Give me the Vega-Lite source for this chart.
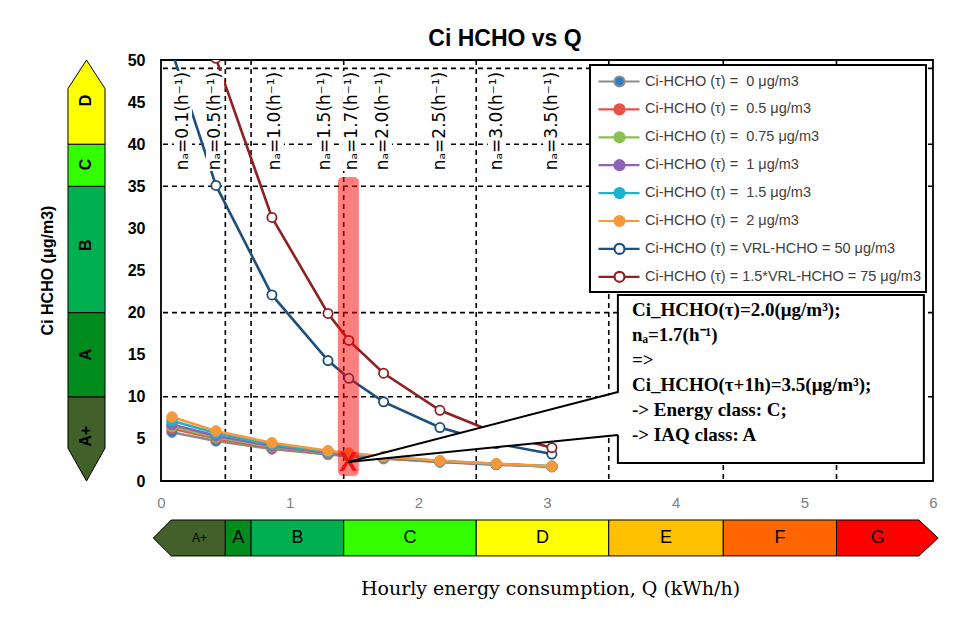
{
  "$schema": "https://vega.github.io/schema/vega-lite/v6.json",
  "width": 772,
  "height": 421,
  "autosize": {"type": "none"},
  "padding": {"left": 161, "top": 60, "right": 37, "bottom": 136},
  "background": "white",
  "title": {"text": "Ci HCHO vs Q", "frame": "group", "anchor": "middle", "dx": -42, "dy": 32, "offset": 15, "baseline": "alphabetic", "fontSize": 23, "font": "Liberation Sans", "fontWeight": "bold", "color": "black"},
  "datasets": {
    "series": [
      {"k": "0", "Q": 0.0855, "C": 5.8}, {"k": "0", "Q": 0.427, "C": 4.75}, {"k": "0", "Q": 0.862, "C": 3.8}, {"k": "0", "Q": 1.298, "C": 3.15}, {"k": "0", "Q": 1.46, "C": 2.95}, {"k": "0", "Q": 1.73, "C": 2.65}, {"k": "0", "Q": 2.168, "C": 2.25}, {"k": "0", "Q": 2.605, "C": 1.95}, {"k": "0", "Q": 3.038, "C": 1.7},
      {"k": "0.5", "Q": 0.0855, "C": 6.25}, {"k": "0.5", "Q": 0.427, "C": 5.05}, {"k": "0.5", "Q": 0.862, "C": 3.98}, {"k": "0.5", "Q": 1.298, "C": 3.26}, {"k": "0.5", "Q": 1.46, "C": 3.04}, {"k": "0.5", "Q": 1.73, "C": 2.72}, {"k": "0.5", "Q": 2.168, "C": 2.29}, {"k": "0.5", "Q": 2.605, "C": 1.98}, {"k": "0.5", "Q": 3.038, "C": 1.72},
      {"k": "0.75", "Q": 0.0855, "C": 6.48}, {"k": "0.75", "Q": 0.427, "C": 5.2}, {"k": "0.75", "Q": 0.862, "C": 4.08}, {"k": "0.75", "Q": 1.298, "C": 3.32}, {"k": "0.75", "Q": 1.46, "C": 3.09}, {"k": "0.75", "Q": 1.73, "C": 2.75}, {"k": "0.75", "Q": 2.168, "C": 2.31}, {"k": "0.75", "Q": 2.605, "C": 1.99}, {"k": "0.75", "Q": 3.038, "C": 1.72},
      {"k": "1", "Q": 0.0855, "C": 6.7}, {"k": "1", "Q": 0.427, "C": 5.36}, {"k": "1", "Q": 0.862, "C": 4.17}, {"k": "1", "Q": 1.298, "C": 3.37}, {"k": "1", "Q": 1.46, "C": 3.13}, {"k": "1", "Q": 1.73, "C": 2.79}, {"k": "1", "Q": 2.168, "C": 2.33}, {"k": "1", "Q": 2.605, "C": 2.0}, {"k": "1", "Q": 3.038, "C": 1.73},
      {"k": "1.5", "Q": 0.0855, "C": 7.16}, {"k": "1.5", "Q": 0.427, "C": 5.66}, {"k": "1.5", "Q": 0.862, "C": 4.35}, {"k": "1.5", "Q": 1.298, "C": 3.48}, {"k": "1.5", "Q": 1.46, "C": 3.22}, {"k": "1.5", "Q": 1.73, "C": 2.85}, {"k": "1.5", "Q": 2.168, "C": 2.37}, {"k": "1.5", "Q": 2.605, "C": 2.03}, {"k": "1.5", "Q": 3.038, "C": 1.75},
      {"k": "2", "Q": 0.0855, "C": 7.61}, {"k": "2", "Q": 0.427, "C": 5.95}, {"k": "2", "Q": 0.862, "C": 4.54}, {"k": "2", "Q": 1.298, "C": 3.6}, {"k": "2", "Q": 1.46, "C": 3.32}, {"k": "2", "Q": 1.73, "C": 2.92}, {"k": "2", "Q": 2.168, "C": 2.41}, {"k": "2", "Q": 2.605, "C": 2.05}, {"k": "2", "Q": 3.038, "C": 1.76},
      {"k": "VRL-HCHO = 50", "Q": 0.0855, "C": 51.0}, {"k": "VRL-HCHO = 50", "Q": 0.427, "C": 35.1}, {"k": "VRL-HCHO = 50", "Q": 0.862, "C": 22.1}, {"k": "VRL-HCHO = 50", "Q": 1.298, "C": 14.3}, {"k": "VRL-HCHO = 50", "Q": 1.46, "C": 12.2}, {"k": "VRL-HCHO = 50", "Q": 1.73, "C": 9.4}, {"k": "VRL-HCHO = 50", "Q": 2.168, "C": 6.35}, {"k": "VRL-HCHO = 50", "Q": 2.605, "C": 4.45}, {"k": "VRL-HCHO = 50", "Q": 3.038, "C": 3.2},
      {"k": "1.5*VRL-HCHO = 75", "Q": 0.0855, "C": 73.7}, {"k": "1.5*VRL-HCHO = 75", "Q": 0.427, "C": 50.2}, {"k": "1.5*VRL-HCHO = 75", "Q": 0.862, "C": 31.3}, {"k": "1.5*VRL-HCHO = 75", "Q": 1.298, "C": 19.9}, {"k": "1.5*VRL-HCHO = 75", "Q": 1.46, "C": 16.7}, {"k": "1.5*VRL-HCHO = 75", "Q": 1.73, "C": 12.8}, {"k": "1.5*VRL-HCHO = 75", "Q": 2.168, "C": 8.4}, {"k": "1.5*VRL-HCHO = 75", "Q": 2.605, "C": 5.7}, {"k": "1.5*VRL-HCHO = 75", "Q": 3.038, "C": 3.96}
    ],
    "vgrid": [{"Q": 0.5}, {"Q": 0.7}, {"Q": 1.42}, {"Q": 2.45}, {"Q": 3.48}, {"Q": 4.37}, {"Q": 5.25}],
    "hgrid": [{"C": 10}, {"C": 20}, {"C": 35}, {"C": 40}, {"C": 49}],
    "naLabels": [
      {"t": "nₐ=0.1(h⁻¹)", "Q": 0.171}, {"t": "nₐ=0.5(h⁻¹)", "Q": 0.42}, {"t": "nₐ=1.0(h⁻¹)", "Q": 0.885},
      {"t": "nₐ=1.5(h⁻¹)", "Q": 1.274}, {"t": "nₐ=1.7(h⁻¹)", "Q": 1.484}, {"t": "nₐ=2.0(h⁻¹)", "Q": 1.725},
      {"t": "nₐ=2.5(h⁻¹)", "Q": 2.17}, {"t": "nₐ=3.0(h⁻¹)", "Q": 2.61}, {"t": "nₐ=3.5(h⁻¹)", "Q": 3.04}
    ],
    "leftBar": [
      {"c": "A+", "v": 0, "lo": -0.579, "hi": -0.579}, {"c": "A+", "v": 3.9, "lo": -0.723, "hi": -0.435}, {"c": "A+", "v": 10, "lo": -0.723, "hi": -0.435},
      {"c": "A", "v": 10, "lo": -0.723, "hi": -0.435}, {"c": "A", "v": 20, "lo": -0.723, "hi": -0.435},
      {"c": "B", "v": 20, "lo": -0.723, "hi": -0.435}, {"c": "B", "v": 35, "lo": -0.723, "hi": -0.435},
      {"c": "C", "v": 35, "lo": -0.723, "hi": -0.435}, {"c": "C", "v": 40, "lo": -0.723, "hi": -0.435},
      {"c": "D", "v": 40, "lo": -0.723, "hi": -0.435}, {"c": "D", "v": 46.6, "lo": -0.723, "hi": -0.435}, {"c": "D", "v": 50, "lo": -0.579, "hi": -0.579}
    ],
    "bottomBar": [
      {"c": "A+", "v": -0.06, "lo": -6.77, "hi": -6.77}, {"c": "A+", "v": 0.08, "lo": -8.9, "hi": -4.63}, {"c": "A+", "v": 0.5, "lo": -8.9, "hi": -4.63},
      {"c": "A", "v": 0.5, "lo": -8.9, "hi": -4.63}, {"c": "A", "v": 0.7, "lo": -8.9, "hi": -4.63},
      {"c": "B", "v": 0.7, "lo": -8.9, "hi": -4.63}, {"c": "B", "v": 1.42, "lo": -8.9, "hi": -4.63},
      {"c": "C", "v": 1.42, "lo": -8.9, "hi": -4.63}, {"c": "C", "v": 2.45, "lo": -8.9, "hi": -4.63},
      {"c": "D", "v": 2.45, "lo": -8.9, "hi": -4.63}, {"c": "D", "v": 3.48, "lo": -8.9, "hi": -4.63},
      {"c": "E", "v": 3.48, "lo": -8.9, "hi": -4.63}, {"c": "E", "v": 4.37, "lo": -8.9, "hi": -4.63},
      {"c": "F", "v": 4.37, "lo": -8.9, "hi": -4.63}, {"c": "F", "v": 5.25, "lo": -8.9, "hi": -4.63},
      {"c": "G", "v": 5.25, "lo": -8.9, "hi": -4.63}, {"c": "G", "v": 5.89, "lo": -8.9, "hi": -4.63}, {"c": "G", "v": 6.04, "lo": -6.77, "hi": -6.77}
    ],
    "leftLabels": [{"c": "D", "C": 45.2}, {"c": "C", "C": 37.6}, {"c": "B", "C": 28}, {"c": "A", "C": 15}, {"c": "A+", "C": 5.3}],
    "bottomLabels": [{"c": "A+", "Q": 0.3}, {"c": "A", "Q": 0.6}, {"c": "B", "Q": 1.06}, {"c": "C", "Q": 1.935}, {"c": "D", "Q": 2.965}, {"c": "E", "Q": 3.925}, {"c": "F", "Q": 4.81}, {"c": "G", "Q": 5.57}],
    "band": [{"x1": 1.375, "x2": 1.538, "y1": 0.6, "y2": 36.1}],
    "cross": [{"Q": 1.455, "C": 2.26, "t": "X"}],
    "box": [{"x1": 3.551, "x2": 5.929, "y1": 22.09, "y2": 2.14}],
    "pointerFill": [{"Q": 1.455, "top": 2.26, "bot": 2.26}, {"Q": 3.566, "top": 10.5, "bot": 5.5}],
    "pointerLines": [{"x1": 1.455, "y1": 2.26, "x2": 3.551, "y2": 10.57}, {"x1": 1.455, "y1": 2.26, "x2": 3.551, "y2": 5.46}],
    "boxText": [{"Q": 3.66, "C": 19.56, "lines": ["Ci_HCHO(τ)=2.0(μg/m³);", "nₐ=1.7(h⁻¹)", "=>", "Ci_HCHO(τ+1h)=3.5(μg/m³);", "-> Energy class: C;", "-> IAQ class: A"]}]
  },
  "layer": [
    {
      "data": {"name": "vgrid"},
      "mark": {"type": "rule", "color": "black", "strokeWidth": 1.6, "strokeDash": [5, 4]},
      "encoding": {"x": {"field": "Q", "type": "quantitative", "scale": {"domain": [0, 6], "nice": false, "zero": false}}}
    },
    {
      "data": {"name": "hgrid"},
      "mark": {"type": "rule", "color": "black", "strokeWidth": 1.6, "strokeDash": [5, 4]},
      "encoding": {"y": {"field": "C", "type": "quantitative", "scale": {"domain": [0, 50], "nice": false, "zero": false}}}
    },
    {
      "data": {"name": "series"},
      "mark": {"type": "line", "strokeWidth": 2.6, "clip": true},
      "encoding": {
        "x": {"field": "Q", "type": "quantitative", "scale": {"domain": [0, 6], "nice": false, "zero": false},
          "axis": {"values": [0, 1, 2, 3, 4, 5, 6], "format": "d", "domain": false, "ticks": false, "grid": false, "labelFlush": false, "labelPadding": 14, "labelFontSize": 15, "labelColor": "#808080", "labelFont": "Liberation Sans",
            "title": "Hourly energy consumption, Q (kWh/h)", "titleFont": "DejaVu Serif", "titleFontSize": 19, "titleFontWeight": "normal", "titleColor": "black", "titleX": 389, "titleY": 107, "titleBaseline": "middle", "titleAlign": "center"}},
        "y": {"field": "C", "type": "quantitative", "scale": {"domain": [0, 50], "nice": false, "zero": false},
          "axis": {"values": [0, 5, 10, 15, 20, 25, 30, 35, 40, 45, 50], "domain": false, "ticks": false, "grid": false, "labelFlush": false, "labelPadding": 16, "labelFontSize": 16, "labelFontWeight": "bold", "labelColor": "black", "labelFont": "Liberation Sans",
            "title": "Ci HCHO (μg/m3)", "titleFont": "Liberation Sans", "titleFontSize": 16, "titleFontWeight": "bold", "titleColor": "black", "titleX": -114, "titleY": 210, "titleAlign": "center", "titleBaseline": "middle", "titleAngle": 270}},
        "stroke": {"field": "k", "type": "nominal",
          "scale": {"domain": ["0", "0.5", "0.75", "1", "1.5", "2", "VRL-HCHO = 50", "1.5*VRL-HCHO = 75"],
            "range": ["#8c8c8c", "#e5534b", "#8cc152", "#8e63b5", "#1db3cf", "#f7993a", "#1c4f7c", "#8e2121"]},
          "legend": {"title": null, "symbolType": "M-0.8,0H0.8M1.8,0H3.3M1.8,0A0.5,0.5 0 1,1 0.8,0A0.5,0.5 0 1,1 1.8,0Z", "symbolSize": 400,
            "labelExpr": "'Ci-HCHO (τ) = ' + (indexof(datum.value, 'VRL') >= 0 ? '' : '\u00a0') + datum.value + ' μg/m3'",
            "encoding": {"symbols": {"fill": {"value": {"signal": "scale('fill', datum.value)"}}, "stroke": {"value": {"signal": "scale('stroke', datum.value)"}}}, "legend": {"strokeWidth": {"value": 2}}}}}
      }
    },
    {
      "data": {"name": "series"},
      "transform": [{"filter": "indexof(datum.k, 'VRL') < 0"}],
      "mark": {"type": "point", "shape": "circle", "filled": true, "opacity": 1, "size": 110, "strokeWidth": 1, "clip": true},
      "encoding": {
        "x": {"field": "Q", "type": "quantitative"},
        "y": {"field": "C", "type": "quantitative"},
        "stroke": {"field": "k", "type": "nominal",
          "legend": {"title": null, "symbolType": "M-0.8,0H0.8M1.8,0H3.3M1.8,0A0.5,0.5 0 1,1 0.8,0A0.5,0.5 0 1,1 1.8,0Z", "symbolSize": 400,
            "labelExpr": "'Ci-HCHO (τ) = ' + (indexof(datum.value, 'VRL') >= 0 ? '' : '\u00a0') + datum.value + ' μg/m3'",
            "encoding": {"symbols": {"fill": {"value": {"signal": "scale('fill', datum.value)"}}, "stroke": {"value": {"signal": "scale('stroke', datum.value)"}}}, "legend": {"strokeWidth": {"value": 2}}}}},
        "fill": {"field": "k", "type": "nominal",
          "scale": {"domain": ["0", "0.5", "0.75", "1", "1.5", "2", "VRL-HCHO = 50", "1.5*VRL-HCHO = 75"],
            "range": ["#2e7ec6", "#e5534b", "#8cc152", "#8e63b5", "#1db3cf", "#f7993a", "#ffffff", "#ffffff"]},
          "legend": {"title": null, "symbolType": "M-0.8,0H0.8M1.8,0H3.3M1.8,0A0.5,0.5 0 1,1 0.8,0A0.5,0.5 0 1,1 1.8,0Z", "symbolSize": 400,
            "labelExpr": "'Ci-HCHO (τ) = ' + (indexof(datum.value, 'VRL') >= 0 ? '' : '\u00a0') + datum.value + ' μg/m3'",
            "encoding": {"symbols": {"fill": {"value": {"signal": "scale('fill', datum.value)"}}, "stroke": {"value": {"signal": "scale('stroke', datum.value)"}}}, "legend": {"strokeWidth": {"value": 2}}}}}
      }
    },
    {
      "data": {"name": "series"},
      "transform": [{"filter": "indexof(datum.k, 'VRL') >= 0"}],
      "mark": {"type": "point", "shape": "circle", "filled": true, "opacity": 1, "size": 85, "strokeWidth": 1.8, "clip": true},
      "encoding": {
        "x": {"field": "Q", "type": "quantitative"},
        "y": {"field": "C", "type": "quantitative"},
        "stroke": {"field": "k", "type": "nominal",
          "legend": {"title": null, "symbolType": "M-0.8,0H0.8M1.8,0H3.3M1.8,0A0.5,0.5 0 1,1 0.8,0A0.5,0.5 0 1,1 1.8,0Z", "symbolSize": 400,
            "labelExpr": "'Ci-HCHO (τ) = ' + (indexof(datum.value, 'VRL') >= 0 ? '' : '\u00a0') + datum.value + ' μg/m3'",
            "encoding": {"symbols": {"fill": {"value": {"signal": "scale('fill', datum.value)"}}, "stroke": {"value": {"signal": "scale('stroke', datum.value)"}}}, "legend": {"strokeWidth": {"value": 2}}}}},
        "fill": {"field": "k", "type": "nominal",
          "legend": {"title": null, "symbolType": "M-0.8,0H0.8M1.8,0H3.3M1.8,0A0.5,0.5 0 1,1 0.8,0A0.5,0.5 0 1,1 1.8,0Z", "symbolSize": 400,
            "labelExpr": "'Ci-HCHO (τ) = ' + (indexof(datum.value, 'VRL') >= 0 ? '' : '\u00a0') + datum.value + ' μg/m3'",
            "encoding": {"symbols": {"fill": {"value": {"signal": "scale('fill', datum.value)"}}, "stroke": {"value": {"signal": "scale('stroke', datum.value)"}}}, "legend": {"strokeWidth": {"value": 2}}}}}
      }
    },
    {
      "data": {"name": "naLabels"},
      "mark": {"type": "point", "shape": "M-0.18,-1H0.18V1H-0.18Z", "size": 10000, "filled": true, "fill": "white", "opacity": 1, "strokeWidth": 0},
      "encoding": {
        "x": {"field": "Q", "type": "quantitative"},
        "y": {"datum": 42.75, "type": "quantitative"}
      }
    },
    {
      "data": {"name": "naLabels"},
      "mark": {"type": "text", "angle": 270, "align": "center", "baseline": "middle", "font": "DejaVu Sans", "fontSize": 17, "color": "black"},
      "encoding": {
        "x": {"field": "Q", "type": "quantitative"},
        "y": {"datum": 42.75, "type": "quantitative"},
        "text": {"field": "t"}
      }
    },
    {
      "data": {"name": "band"},
      "mark": {"type": "rect", "fill": "#ff0000", "opacity": 0.5, "cornerRadius": 5},
      "encoding": {
        "x": {"field": "x1", "type": "quantitative"}, "x2": {"field": "x2"},
        "y": {"field": "y1", "type": "quantitative"}, "y2": {"field": "y2"}
      }
    },
    {
      "data": {"name": "cross"},
      "mark": {"type": "text", "align": "center", "baseline": "middle", "dy": 1, "font": "Liberation Sans", "fontWeight": "bold", "fontSize": 27, "color": "#ee1111"},
      "encoding": {
        "x": {"field": "Q", "type": "quantitative"},
        "y": {"field": "C", "type": "quantitative"},
        "text": {"field": "t"}
      }
    },
    {
      "data": {"name": "box"},
      "mark": {"type": "rect", "fill": "white", "stroke": "black", "strokeWidth": 2},
      "encoding": {
        "x": {"field": "x1", "type": "quantitative"}, "x2": {"field": "x2"},
        "y": {"field": "y1", "type": "quantitative"}, "y2": {"field": "y2"}
      }
    },
    {
      "data": {"name": "pointerFill"},
      "mark": {"type": "area", "fill": "white", "opacity": 1},
      "encoding": {
        "x": {"field": "Q", "type": "quantitative"},
        "y": {"field": "top", "type": "quantitative"}, "y2": {"field": "bot"}
      }
    },
    {
      "data": {"name": "pointerLines"},
      "mark": {"type": "rule", "color": "black", "strokeWidth": 2},
      "encoding": {
        "x": {"field": "x1", "type": "quantitative"}, "x2": {"field": "x2"},
        "y": {"field": "y1", "type": "quantitative"}, "y2": {"field": "y2"}
      }
    },
    {
      "data": {"name": "boxText"},
      "mark": {"type": "text", "align": "left", "baseline": "alphabetic", "lineHeight": 25, "font": "Liberation Serif", "fontWeight": "bold", "fontSize": 19, "color": "black"},
      "encoding": {
        "x": {"field": "Q", "type": "quantitative"},
        "y": {"field": "C", "type": "quantitative"},
        "text": {"field": "lines"}
      }
    },
    {
      "data": {"name": "leftBar"},
      "mark": {"type": "area", "orient": "horizontal", "stroke": "black", "strokeWidth": 1, "opacity": 1},
      "encoding": {
        "y": {"field": "v", "type": "quantitative"},
        "x": {"field": "lo", "type": "quantitative"}, "x2": {"field": "hi"},
        "color": {"field": "c", "type": "nominal", "legend": null,
          "scale": {"domain": ["A+", "A", "B", "C", "D", "E", "F", "G"], "range": ["#41602a", "#008c1c", "#00b050", "#33ff00", "#ffff00", "#ffc000", "#ff6600", "#ff0000"]}}
      }
    },
    {
      "data": {"name": "bottomBar"},
      "mark": {"type": "area", "stroke": "black", "strokeWidth": 1, "opacity": 1},
      "encoding": {
        "x": {"field": "v", "type": "quantitative"},
        "y": {"field": "lo", "type": "quantitative"}, "y2": {"field": "hi"},
        "color": {"field": "c", "type": "nominal", "legend": null}
      }
    },
    {
      "data": {"name": "leftLabels"},
      "mark": {"type": "text", "angle": 270, "align": "center", "baseline": "middle", "font": "Liberation Sans", "fontWeight": "bold", "fontSize": 16, "color": "black"},
      "encoding": {
        "x": {"datum": -0.58, "type": "quantitative"},
        "y": {"field": "C", "type": "quantitative"},
        "text": {"field": "c"}
      }
    },
    {
      "data": {"name": "bottomLabels"},
      "mark": {"type": "text", "align": "center", "baseline": "middle", "font": "Liberation Sans", "color": "black"},
      "encoding": {
        "x": {"field": "Q", "type": "quantitative"},
        "y": {"datum": -6.77, "type": "quantitative"},
        "text": {"field": "c"},
        "size": {"condition": {"test": "datum.c === 'A+'", "value": 12}, "value": 18}
      }
    }
  ],
  "config": {
    "font": "Liberation Sans",
    "view": {"stroke": "black", "strokeWidth": 1.8},
    "legend": {"orient": "none", "legendX": 429, "legendY": 5, "padding": 5, "strokeColor": "black", "fillColor": "white",
      "labelFont": "Liberation Sans", "labelFontSize": 14.5, "labelColor": "#404040", "labelLimit": 400, "rowPadding": 6.9, "labelOffset": 27, "symbolStrokeWidth": 2.2}
  }
}
